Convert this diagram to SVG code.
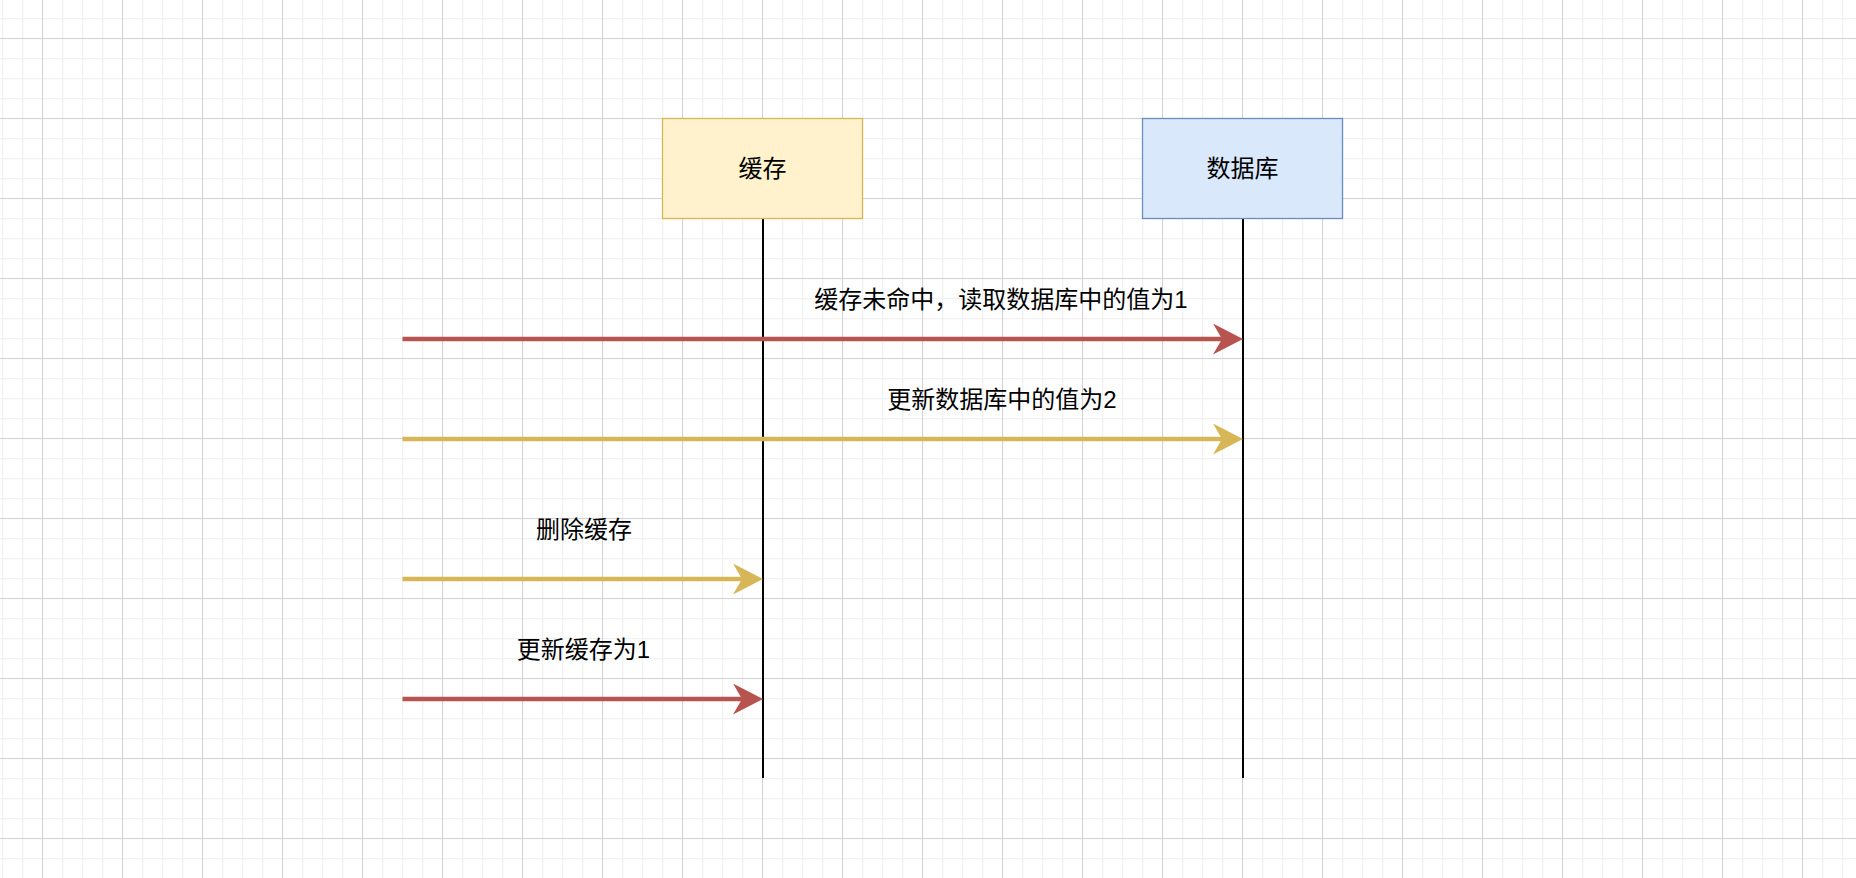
<svg xmlns="http://www.w3.org/2000/svg" width="1856" height="878" viewBox="0 0 1856 878">
<style>
.lbl{font-family:"Liberation Sans","Noto Sans CJK SC",sans-serif;font-size:24px;fill:#000;text-anchor:middle}
.life{stroke:#000;stroke-width:2;fill:none}
.red{stroke:#b85450;stroke-width:4.7;fill:none}
.yel{stroke:#d6b656;stroke-width:4.7;fill:none}
</style>
<defs>
<pattern id="minor" x="2" y="18" width="20" height="20" patternUnits="userSpaceOnUse">
<path d="M0.5,0 V20 M0,0.5 H20" stroke="#f1f1f1" stroke-width="1.6" fill="none"/>
</pattern>
<pattern id="major" x="42" y="38" width="80" height="80" patternUnits="userSpaceOnUse">
<path d="M0.5,0 V80 M0,0.5 H80" stroke="#d3d3d3" stroke-width="1" fill="none"/>
</pattern>
<marker id="ahR" viewBox="0 0 30 31" refX="9" refY="15.5" markerWidth="30" markerHeight="31" markerUnits="userSpaceOnUse" orient="auto">
<path d="M0,0 L30,15.5 L0,31 L9,15.5 Z" fill="#b85450"/>
</marker>
<marker id="ahY" viewBox="0 0 30 31" refX="9" refY="15.5" markerWidth="30" markerHeight="31" markerUnits="userSpaceOnUse" orient="auto">
<path d="M0,0 L30,15.5 L0,31 L9,15.5 Z" fill="#d6b656"/>
</marker>
</defs>
<rect width="1856" height="878" fill="#fff"/>
<rect width="1856" height="878" fill="url(#minor)"/>
<rect width="1856" height="878" fill="url(#major)"/>
<g id="connectors">
<line class="life" x1="763" y1="218.5" x2="763" y2="778"/>
<line class="life" x1="1243" y1="218.5" x2="1243" y2="778"/>
<line class="red" x1="402.5" y1="339" x2="1222" y2="339" marker-end="url(#ahR)"/>
<line class="yel" x1="402.5" y1="439" x2="1222" y2="439" marker-end="url(#ahY)"/>
<line class="yel" x1="402.5" y1="579" x2="742" y2="579" marker-end="url(#ahY)"/>
<line class="red" x1="402.5" y1="699" x2="742" y2="699" marker-end="url(#ahR)"/>
<text class="lbl" x="1001" y="308">缓存未命中，读取数据库中的值为1</text>
<text class="lbl" x="1002" y="408">更新数据库中的值为2</text>
<text class="lbl" x="584" y="538">删除缓存</text>
<text class="lbl" x="583.5" y="658">更新缓存为1</text>
</g>
<g id="cache">
<rect x="662.5" y="118.5" width="200" height="100" fill="#fff2cc" stroke="#d6b656" stroke-width="1.3"/>
<text class="lbl" x="762.5" y="177">缓存</text>
</g>
<g id="db">
<rect x="1142.5" y="118.5" width="200" height="100" fill="#dae8fc" stroke="#6c8ebf" stroke-width="1.3"/>
<text class="lbl" x="1242.5" y="177">数据库</text>
</g>
</svg>
